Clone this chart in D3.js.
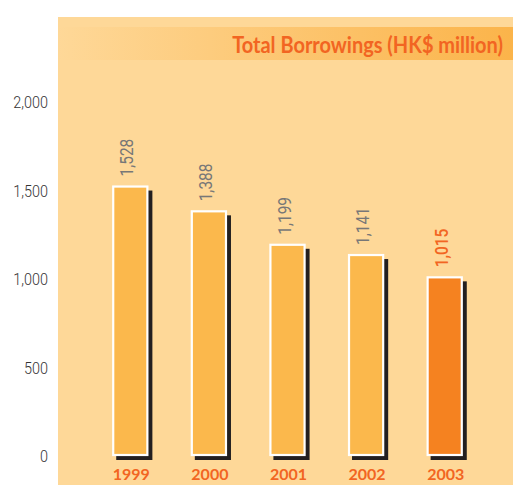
<!DOCTYPE html>
<html><head><meta charset="utf-8">
<script src="https://cdn.jsdelivr.net/npm/d3@7/dist/d3.min.js"></script>
<style>body{margin:0;background:#fff}svg{display:block}</style>
</head><body>
<script>
const years = ["1999","2000","2001","2002","2003"];
const values = [1528, 1388, 1199, 1141, 1015];
const valueLabels = ["1,528","1,388","1,199","1,141","1,015"];
const yTicks = [0, 500, 1000, 1500, 2000];
const title = "Total Borrowings (HK$ million)";

const W = 513, H = 485;
const svg = d3.select("body").append("svg").attr("width", W).attr("height", H);
const defs = svg.append("defs");
const grad = defs.append("linearGradient").attr("id","tg").attr("x1","0").attr("x2","1");
grad.append("stop").attr("offset","0").attr("stop-color","#FED898");
grad.append("stop").attr("offset","1").attr("stop-color","#FBB44A");

// panel
svg.append("rect").attr("x",58).attr("y",17).attr("width",W-58).attr("height",H-17).attr("fill","#FED898");
svg.append("rect").attr("x",58).attr("y",27).attr("width",W-58).attr("height",33).attr("fill","url(#tg)");
const tt = svg.append("text").attr("x",0).attr("y",0).attr("text-anchor","end")
  .attr("font-family","Lato, sans-serif").attr("font-weight","bold").attr("font-size",22)
  .attr("fill","#F26522").text(title);
const tl = tt.node().getComputedTextLength();
tt.attr("transform",`translate(503,52.5) scale(${271/tl},1)`);

const y = d3.scaleLinear().domain([0,2000]).range([456,102]);
const x = d3.scaleBand().domain(years).range([91,484]).paddingInner(0.54).paddingOuter(0.27);

// y axis
const yAxis = d3.axisLeft(y).tickValues(yTicks).tickFormat(d3.format(",")).tickSize(0).tickPadding(0);
const ga = svg.append("g").attr("transform","translate(48,0)").call(yAxis);
ga.select(".domain").remove();
ga.selectAll("text").attr("font-family","Roboto, sans-serif").attr("font-weight",300)
  .attr("font-size",16).attr("fill","#333").attr("dy","0.36em")
  .attr("transform","scale(0.9,1)");

const g = svg.append("g");
// shadows
g.selectAll("rect.sh").data(values).enter().append("rect").attr("class","sh")
  .attr("x",(d,i)=>x(years[i])+4).attr("y",d=>y(d)+5)
  .attr("width",x.bandwidth()).attr("height",d=>y(0)-y(d)-1)
  .attr("fill","#231F20");
// bars
g.selectAll("rect.bar").data(values).enter().append("rect").attr("class","bar")
  .attr("x",(d,i)=>x(years[i])+1).attr("y",d=>y(d)+1)
  .attr("width",x.bandwidth()-2).attr("height",d=>y(0)-y(d)-2)
  .attr("fill",(d,i)=>i===4?"#F58220":"#FBB84C")
  .attr("stroke","#fff").attr("stroke-width",2.2);
// value labels
g.selectAll("text.val").data(values).enter().append("text").attr("class","val")
  .attr("transform",(d,i)=>`translate(${x(years[i])+x.bandwidth()/2+3},${y(d)-9}) rotate(-90) scale(0.86,1)`)
  .attr("font-family","Roboto, sans-serif")
  .attr("font-size",18).attr("fill",(d,i)=>i===4?"#F26522":"#777")
  .attr("font-weight",(d,i)=>i===4?500:400)
  .text((d,i)=>valueLabels[i]);
// year labels
g.selectAll("text.yr").data(years).enter().append("text").attr("class","yr")
  .attr("x",d=>x(d)+x.bandwidth()/2+1).attr("y",480).attr("text-anchor","middle")
  .attr("font-family","Lato, sans-serif").attr("font-weight","bold").attr("font-size",16)
  .attr("fill","#F26522").text(d=>d);
</script>
</body></html>
